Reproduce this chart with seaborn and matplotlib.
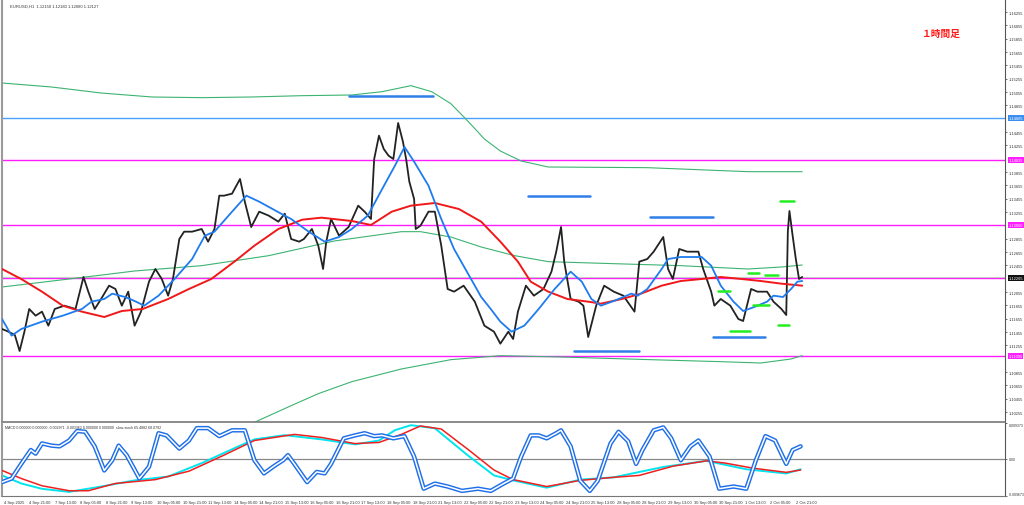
import matplotlib
matplotlib.use("Agg")
import matplotlib.pyplot as plt
import seaborn as sns
import numpy as np

sns.set_style("white")
plt.rcParams["font.family"] = ["Liberation Sans", "DejaVu Sans"]

# ---------------------------------------------------------------
# data (x = hourly bar index, y = price)
# ---------------------------------------------------------------
price_bar = [0, 4, 8, 11, 14, 17, 21, 25, 29, 33, 39, 46, 51, 54, 58, 62, 67, 71, 75, 79,
             83, 87, 92, 96, 100, 104, 107, 111, 114, 119, 125, 129, 133, 136, 139, 144, 149, 152, 156, 161,
             167, 173, 177, 181, 186, 189, 194, 198, 201, 203, 206, 211, 217, 223, 227, 231, 233, 236, 239, 242,
             245, 248, 251, 253, 255, 258, 259, 262, 267, 271, 275, 279, 283, 289, 296, 302, 308, 312, 317, 320,
             323, 328, 333, 339, 344, 347, 350, 352, 356, 361, 364, 367, 372, 377, 383, 389, 396, 399, 404, 408,
             414, 417, 420, 424, 429, 436, 439, 444, 446, 450, 456, 461, 464, 469, 473, 479, 483, 488, 491, 492,
             493, 495, 497, 499, 501]
price = [1.1150, 1.1146, 1.1141, 1.1117, 1.1146, 1.1180, 1.1170, 1.1176, 1.1155, 1.1180,
         1.1185, 1.1180, 1.1228, 1.1206, 1.1180, 1.1195, 1.1215, 1.1210, 1.1185, 1.1206,
         1.1155, 1.1176, 1.1221, 1.1240, 1.1225, 1.1200, 1.1225, 1.1285, 1.1296, 1.1296,
         1.1300, 1.1281, 1.1300, 1.1350, 1.1350, 1.1353, 1.1375, 1.1341, 1.1303, 1.1326,
         1.1320, 1.1311, 1.1323, 1.1285, 1.1281, 1.1285, 1.1300, 1.1275, 1.1240, 1.1281,
         1.1315, 1.1290, 1.1303, 1.1335, 1.1326, 1.1315, 1.1405, 1.1440, 1.1420, 1.1410,
         1.1405, 1.1459, 1.1431, 1.1405, 1.1371, 1.1345, 1.1300, 1.1305, 1.1326, 1.1326,
         1.1275, 1.1210, 1.1206, 1.1215, 1.1191, 1.1155, 1.1146, 1.1128, 1.1146, 1.1135,
         1.1176, 1.1215, 1.1200, 1.1210, 1.1236, 1.1266, 1.1303, 1.1251, 1.1195, 1.1191,
         1.1185, 1.1138, 1.1185, 1.1215, 1.1206, 1.1200, 1.1176, 1.1251, 1.1255, 1.1266,
         1.1288, 1.1240, 1.1225, 1.1270, 1.1266, 1.1266, 1.1240, 1.1206, 1.1185, 1.1195,
         1.1185, 1.1165, 1.1162, 1.1210, 1.1206, 1.1206, 1.1191, 1.1180, 1.1171, 1.1296,
         1.1327, 1.1290, 1.1255, 1.1225, 1.1228]

ma_fast_bar = [0, 6, 12, 25, 38, 50, 56, 64, 69, 77, 83, 89, 98, 108, 119, 127, 133, 144, 153, 161,
               177, 181, 192, 202, 211, 219, 229, 238, 246, 252, 258, 267, 275, 283, 296, 300, 306, 312, 319, 327,
               336, 346, 356, 363, 369, 375, 383, 394, 398, 404, 413, 417, 425, 438, 444, 450, 458, 464, 471, 479,
               483, 489, 494, 498, 501]
ma_fast = [1.1165, 1.1140, 1.1150, 1.1161, 1.1170, 1.1180, 1.1191, 1.1195, 1.1203, 1.1198,
           1.1192, 1.1185, 1.1200, 1.1225, 1.1255, 1.1290, 1.1296, 1.1326, 1.1350, 1.1341,
           1.1320, 1.1315, 1.1296, 1.1281, 1.1288, 1.1300, 1.1320, 1.1360, 1.1395, 1.1423,
           1.1401, 1.1365, 1.1315, 1.1270, 1.1215, 1.1198, 1.1180, 1.1161, 1.1146, 1.1155,
           1.1180, 1.1210, 1.1236, 1.1221, 1.1195, 1.1185, 1.1192, 1.1203, 1.1200, 1.1210,
           1.1240, 1.1255, 1.1258, 1.1258, 1.1245, 1.1215, 1.1191, 1.1177, 1.1183, 1.1191,
           1.1200, 1.1198, 1.1210, 1.1221, 1.1222]

ma_slow_bar = [0, 12, 25, 38, 50, 64, 75, 88, 104, 117, 131, 146, 158, 173, 188, 200, 219, 231, 244, 256,
               271, 286, 300, 312, 323, 331, 342, 354, 367, 375, 388, 400, 413, 425, 438, 450, 463, 475, 488, 501]
ma_slow = [1.1240, 1.1225, 1.1206, 1.1185, 1.1176, 1.1168, 1.1177, 1.1180, 1.1195, 1.1210,
           1.1225, 1.1252, 1.1275, 1.1300, 1.1314, 1.1317, 1.1312, 1.1306, 1.1326, 1.1335,
           1.1339, 1.1330, 1.1311, 1.1281, 1.1251, 1.1221, 1.1206, 1.1195, 1.1191, 1.1188,
           1.1195, 1.1203, 1.1215, 1.1222, 1.1225, 1.1228, 1.1225, 1.1222, 1.1218, 1.1215]

ma_long_bar = [0, 42, 83, 125, 167, 208, 250, 262, 281, 300, 321, 342, 383, 425, 467, 488, 501]
ma_long = [1.1213, 1.1225, 1.1237, 1.1245, 1.1260, 1.1282, 1.1296, 1.1296, 1.1288, 1.1273,
           1.1260, 1.1251, 1.1248, 1.1245, 1.1240, 1.1243, 1.1246]

env_up_bar = [0, 31, 62, 94, 125, 156, 188, 219, 238, 256, 269, 281, 292, 302, 312, 325, 342, 404, 467, 501]
env_up = [1.1519, 1.1513, 1.1504, 1.1498, 1.1497, 1.1498, 1.1500, 1.1501, 1.1506, 1.1515,
          1.1506, 1.1488, 1.1461, 1.1435, 1.1417, 1.1402, 1.1393, 1.1392, 1.1386, 1.1386]
env_dn_bar = [150, 158, 181, 198, 219, 250, 281, 312, 350, 406, 450, 475, 494, 501]
env_dn = [1.1003, 1.1010, 1.1035, 1.1053, 1.1071, 1.1090, 1.1104, 1.1110, 1.1108, 1.1104,
          1.1101, 1.1099, 1.1105, 1.1110]

# horizontal levels across the chart
level_blue = [1.14665]
level_pink = [1.14035, 1.13060, 1.12265, 1.11095]
last_price = 1.12280

# short drawn segments: (start bar, end bar, price)
seg_blue = [(217, 270, 1.1500), (329, 368, 1.1350), (406, 445, 1.1318),
            (358, 399, 1.1117), (445, 478, 1.1138)]
seg_green = [(487, 496, 1.1342), (467, 474, 1.1234), (478, 486, 1.1231), (448, 456, 1.1207),
             (470, 480, 1.1186), (456, 468, 1.1147), (486, 493, 1.1156)]

# lower window: stochastic (0-100) and MACD lines
stoch_bar = [0, 6, 12, 18, 21, 25, 31, 36, 42, 47, 52, 58, 64, 69, 73, 78, 86, 92, 98, 103,
             111, 117, 122, 129, 136, 144, 152, 158, 164, 171, 176, 179, 183, 191, 197, 202, 206, 214, 221, 227,
             233, 238, 245, 252, 258, 264, 271, 279, 288, 298, 306, 314, 320, 325, 331, 336, 341, 347, 350, 356,
             362, 368, 373, 381, 386, 392, 397, 401, 408, 414, 419, 425, 431, 436, 443, 449, 458, 466, 472, 478,
             484, 491, 495, 500]
stoch = [19, 24, 44, 63, 58, 72, 69, 68, 76, 89, 88, 68, 35, 49, 69, 56, 24, 40, 86, 83,
         65, 76, 93, 93, 82, 90, 90, 49, 31, 42, 49, 56, 44, 19, 33, 31, 44, 79, 83, 86,
         82, 83, 79, 82, 54, 10, 17, 13, 7, 10, 7, 17, 24, 54, 83, 83, 79, 86, 90, 68,
         21, 7, 21, 72, 88, 75, 44, 63, 90, 94, 79, 49, 68, 76, 54, 10, 13, 10, 49, 82,
         76, 44, 63, 68]

macd_bar = [0, 12, 25, 42, 54, 71, 96, 117, 138, 158, 183, 200, 221, 236, 250, 262, 275, 292, 308, 320,
            326, 341, 362, 383, 399, 420, 441, 453, 470, 491, 500]
macd = [-0.0030, -0.0051, -0.0070, -0.0083, -0.0083, -0.0064, -0.0054, -0.0032, 0.0008, 0.0048,
        0.0064, 0.0056, 0.0040, 0.0043, 0.0064, 0.0086, 0.0078, 0.0024, -0.0029, -0.0054,
        -0.0059, -0.0072, -0.0056, -0.0048, -0.0043, -0.0019, -0.0005, -0.0011, -0.0024, -0.0035,
        -0.0029]
signal_bar = [0, 12, 25, 42, 62, 83, 104, 125, 146, 158, 177, 200, 221, 236, 246, 256, 271, 292, 308, 320,
              341, 362, 383, 414, 441, 466, 491, 500]
signal = [-0.0043, -0.0064, -0.0078, -0.0086, -0.0072, -0.0056, -0.0046, -0.0011, 0.0029, 0.0051,
          0.0062, 0.0051, 0.0038, 0.0048, 0.0075, 0.0088, 0.0080, 0.0008, -0.0043, -0.0056,
          -0.0075, -0.0054, -0.0048, -0.0021, -0.0005, -0.0027, -0.0038, -0.0027]

time_labels = ["4 Sep 2025", "4 Sep 21:00", "7 Sep 13:00", "8 Sep 05:00", "8 Sep 21:00",
               "9 Sep 13:00", "10 Sep 05:00", "10 Sep 21:00", "11 Sep 13:00", "14 Sep 05:00",
               "14 Sep 21:00", "15 Sep 13:00", "16 Sep 05:00", "16 Sep 21:00", "17 Sep 13:00",
               "18 Sep 05:00", "18 Sep 21:00", "21 Sep 13:00", "22 Sep 05:00", "22 Sep 21:00",
               "23 Sep 13:00", "24 Sep 05:00", "24 Sep 21:00", "25 Sep 13:00", "28 Sep 05:00",
               "28 Sep 21:00", "29 Sep 13:00", "30 Sep 05:00", "30 Sep 21:00", "1 Oct 13:00",
               "2 Oct 05:00", "2 Oct 21:00"]

y_min, y_max = 1.10105, 1.16450
n_bars = 628
LBL = 2.9  # tiny platform font

# ---------------------------------------------------------------
# figure
# ---------------------------------------------------------------
fig = plt.figure(figsize=(10.24, 5.06), dpi=100)
ax = fig.add_axes([0.002, 83 / 506, 1003 / 1024, 423 / 506])
ax2 = fig.add_axes([0.002, 9 / 506, 1003 / 1024, 73 / 506])

PINK = "#ff1cff"
BLUE = "#2f7fe8"

for p in level_blue:
    ax.axhline(p, color="#4aa0ff", lw=1.0, zorder=1)
for p in level_pink:
    ax.axhline(p, color=PINK, lw=1.0, zorder=1)
ax.axhline(last_price, color="#c8c8c8", lw=0.8, zorder=1)

sns.lineplot(x=env_up_bar, y=env_up, ax=ax, color="#3cb371", lw=0.8, zorder=2)
sns.lineplot(x=env_dn_bar, y=env_dn, ax=ax, color="#3cb371", lw=0.8, zorder=2)
sns.lineplot(x=ma_long_bar, y=ma_long, ax=ax, color="#3cb371", lw=0.8, zorder=2)
sns.lineplot(x=price_bar, y=price, ax=ax, color="#222222", lw=1.3, zorder=3)
sns.lineplot(x=ma_slow_bar, y=ma_slow, ax=ax, color="#f01818", lw=1.4, zorder=4)
sns.lineplot(x=ma_fast_bar, y=ma_fast, ax=ax, color="#1e7bf0", lw=1.3, zorder=5)

for b0, b1, p in seg_blue:
    ax.plot([b0, b1], [p, p], color=BLUE, lw=1.8, zorder=6)
for b0, b1, p in seg_green:
    ax.plot([b0, b1], [p, p], color="#22ee22", lw=1.8, zorder=6)

ax.set_xlim(0, n_bars)
ax.set_ylim(y_min, y_max)
ax.set_xticks([])
ax.yaxis.tick_right()
levels = level_blue + level_pink
yt = [t for t in np.arange(1.16255, y_min, -0.002) if min(abs(t - l) for l in levels) > 0.0008]
ax.set_yticks(yt)
ax.set_yticklabels([f"{t:.5f}" for t in yt], fontsize=LBL, color="#333333")
ax.tick_params(axis="y", length=1.5, width=0.5, pad=1, colors="#333333")

# boxed price labels on the right scale
tr = ax.get_yaxis_transform()
for p in levels:
    fc = "#3b8ff0" if p in level_blue else ("#111111" if p == 1.12265 else PINK)
    ax.text(1.0035, p, f"{p:.5f}", transform=tr, fontsize=LBL, color="white", va="center",
            bbox=dict(boxstyle="square,pad=0.2", fc=fc, ec="none"), zorder=10, clip_on=False)

ax.spines["top"].set_visible(False)
ax.spines["left"].set_color("#9a9a9a")
ax.spines["left"].set_linewidth(1.5)
ax.spines["bottom"].set_color("#777777")
ax.spines["bottom"].set_linewidth(1.2)
ax.spines["right"].set_color("#555555")
ax.spines["right"].set_linewidth(0.8)

ax.text(0.008, 0.99, "EURUSD,H1  1.12150 1.12180 1.12080 1.12127", transform=ax.transAxes,
        fontsize=3.0, color="#333333", va="top")

# ---------------------------------------------------------------
# lower window
# ---------------------------------------------------------------
ax2.axhline(0, color="#888888", lw=0.9, zorder=1)
sns.lineplot(x=signal_bar, y=signal, ax=ax2, color="#00e5ee", lw=1.4, zorder=2)
sns.lineplot(x=macd_bar, y=macd, ax=ax2, color="#f02020", lw=1.1, zorder=3)
ax2.set_xlim(0, n_bars)
ax2.set_ylim(-0.009673, 0.009373)

ax3 = ax2.twinx()
sns.lineplot(x=stoch_bar, y=stoch, ax=ax3, color="#1f6fe8", lw=3.2, zorder=4)
sns.lineplot(x=stoch_bar, y=stoch, ax=ax3, color="white", lw=1.1, zorder=5)
ax3.set_ylim(0, 100)
ax3.set_yticks([])
ax3.set_ylabel("")
ax3.set_xlim(0, n_bars)
for s in ax3.spines.values():
    s.set_visible(False)

ax2.yaxis.tick_right()
ax2.set_yticks([0.009373, 0.0, -0.009673])
ax2.set_yticklabels(["0.009373", "0.00", "-0.009673"], fontsize=2.5, color="#333333")
ax2.get_yticklabels()[0].set_va("top")
ax2.get_yticklabels()[2].set_va("bottom")
ax2.tick_params(axis="y", length=1.5, width=0.5, pad=1, colors="#333333")
ax2.set_xticks([16 * i + 1 for i in range(len(time_labels))])
ax2.set_xticklabels(time_labels, fontsize=2.9, color="#333333", ha="left")
ax2.tick_params(axis="x", length=2, width=0.5, pad=1, colors="#333333")
ax2.spines["top"].set_visible(False)
ax2.spines["left"].set_color("#9a9a9a")
ax2.spines["left"].set_linewidth(1.5)
ax2.spines["bottom"].set_color("#777777")
ax2.spines["right"].set_color("#555555")
ax2.spines["right"].set_linewidth(0.8)
ax2.set_ylabel("")

ax2.text(0.003, 0.97, "MACD 0.000000 0.000000 -0.002971 -0.003362 0.000000 0.000000  slow-stoch 65.4882 68.0792",
         transform=ax2.transAxes, fontsize=2.6, color="#333333", va="top", zorder=10)

fig.text(922 / 1024, 1 - 34 / 506, "１時間足", family=["Noto Sans CJK JP", "DejaVu Sans"],
         fontsize=7, color="#ff1a1a", fontweight="bold", va="center")

fig.savefig("out.png", dpi=100)
